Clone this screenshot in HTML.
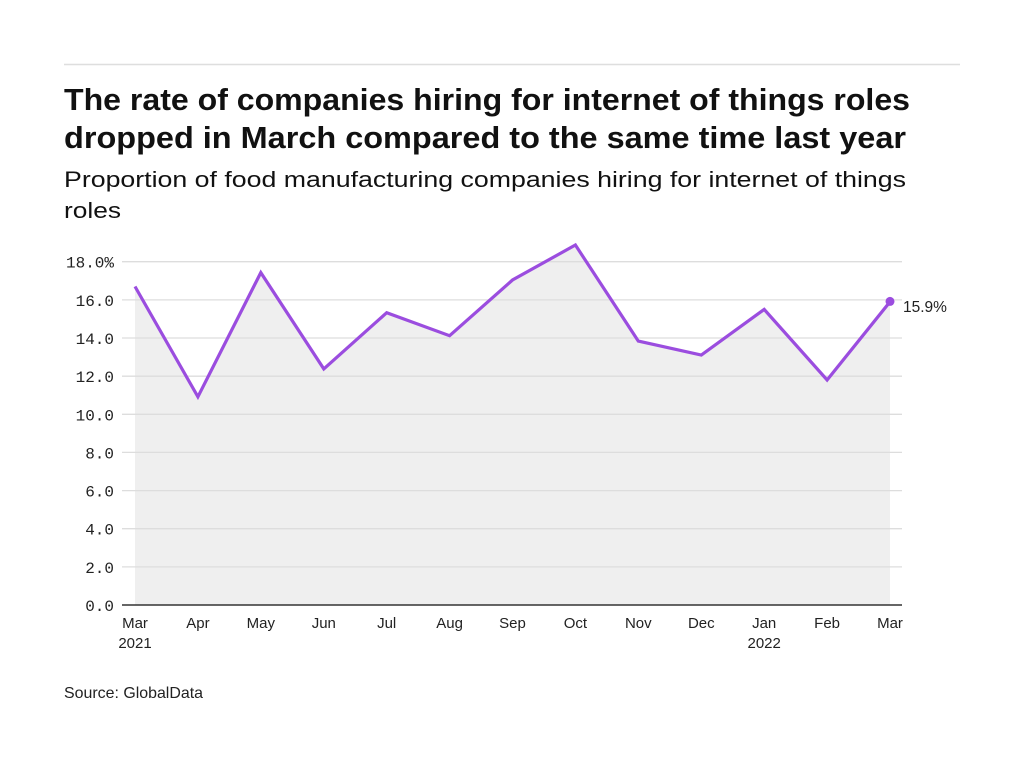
<!DOCTYPE html>
<html>
<head>
<meta charset="utf-8">
<style>
html,body{margin:0;padding:0;background:#fff;}
svg{display:block;}
</style>
</head>
<body>
<svg width="1024" height="768" viewBox="0 0 1024 768" xmlns="http://www.w3.org/2000/svg">
<rect width="1024" height="768" fill="#fff"/>
<line x1="64" y1="64.5" x2="960" y2="64.5" stroke="#dedede" stroke-width="1.5"/>
<g font-family="'Liberation Sans', sans-serif" fill="#111">
<text x="64" y="110" font-size="31" font-weight="bold" textLength="846" lengthAdjust="spacingAndGlyphs">The rate of companies hiring for internet of things roles</text>
<text x="64" y="148" font-size="31" font-weight="bold" textLength="842" lengthAdjust="spacingAndGlyphs">dropped in March compared to the same time last year</text>
<text x="64" y="187" font-size="22.5" textLength="842" lengthAdjust="spacingAndGlyphs">Proportion of food manufacturing companies hiring for internet of things</text>
<text x="64" y="218" font-size="22.5" textLength="57" lengthAdjust="spacingAndGlyphs">roles</text>
<text x="64" y="698" font-size="16" fill="#222" textLength="139" lengthAdjust="spacingAndGlyphs">Source: GlobalData</text>
</g>
<!-- area -->
<polygon fill="#efefef" points="135,605 135,286.5 197.9,396.8 260.8,272.6 323.8,368.9 386.7,312.7 449.6,335.7 512.5,280 575.4,245 638.3,341.1 701.3,355 764.2,309.4 827.1,380 890,301.8 890,605"/>
<!-- grid -->
<g stroke="#dddddd" stroke-width="1.3">
<line x1="122" y1="566.9" x2="902" y2="566.9"/>
<line x1="122" y1="528.7" x2="902" y2="528.7"/>
<line x1="122" y1="490.6" x2="902" y2="490.6"/>
<line x1="122" y1="452.4" x2="902" y2="452.4"/>
<line x1="122" y1="414.3" x2="902" y2="414.3"/>
<line x1="122" y1="376.2" x2="902" y2="376.2"/>
<line x1="122" y1="338" x2="902" y2="338"/>
<line x1="122" y1="299.9" x2="902" y2="299.9"/>
<line x1="122" y1="261.7" x2="902" y2="261.7"/>
</g>
<line x1="122" y1="605" x2="902" y2="605" stroke="#333" stroke-width="1.5"/>
<!-- y labels -->
<g font-family="'Liberation Mono', monospace" font-size="16" fill="#222" text-anchor="end">
<text x="114" y="611">0.0</text>
<text x="114" y="572.9">2.0</text>
<text x="114" y="534.7">4.0</text>
<text x="114" y="496.6">6.0</text>
<text x="114" y="458.4">8.0</text>
<text x="114" y="420.3">10.0</text>
<text x="114" y="382.2">12.0</text>
<text x="114" y="344">14.0</text>
<text x="114" y="305.9">16.0</text>
<text x="114" y="267.7">18.0%</text>
</g>
<!-- x labels -->
<g font-family="'Liberation Sans', sans-serif" font-size="15" fill="#222" text-anchor="middle">
<text x="135" y="628">Mar</text>
<text x="135" y="648">2021</text>
<text x="197.9" y="628">Apr</text>
<text x="260.8" y="628">May</text>
<text x="323.8" y="628">Jun</text>
<text x="386.7" y="628">Jul</text>
<text x="449.6" y="628">Aug</text>
<text x="512.5" y="628">Sep</text>
<text x="575.4" y="628">Oct</text>
<text x="638.3" y="628">Nov</text>
<text x="701.3" y="628">Dec</text>
<text x="764.2" y="628">Jan</text>
<text x="764.2" y="648">2022</text>
<text x="827.1" y="628">Feb</text>
<text x="890" y="628">Mar</text>
</g>
<!-- line -->
<polyline fill="none" stroke="#9b4ddf" stroke-width="3.2" stroke-linejoin="miter" points="135,286.5 197.9,396.8 260.8,272.6 323.8,368.9 386.7,312.7 449.6,335.7 512.5,280 575.4,245 638.3,341.1 701.3,355 764.2,309.4 827.1,380 890,301.8"/>
<circle cx="890" cy="301.4" r="4.5" fill="#9b4ddf"/>
<text x="903" y="312" font-family="'Liberation Sans', sans-serif" font-size="15.5" fill="#222">15.9%</text>
</svg>
</body>
</html>
